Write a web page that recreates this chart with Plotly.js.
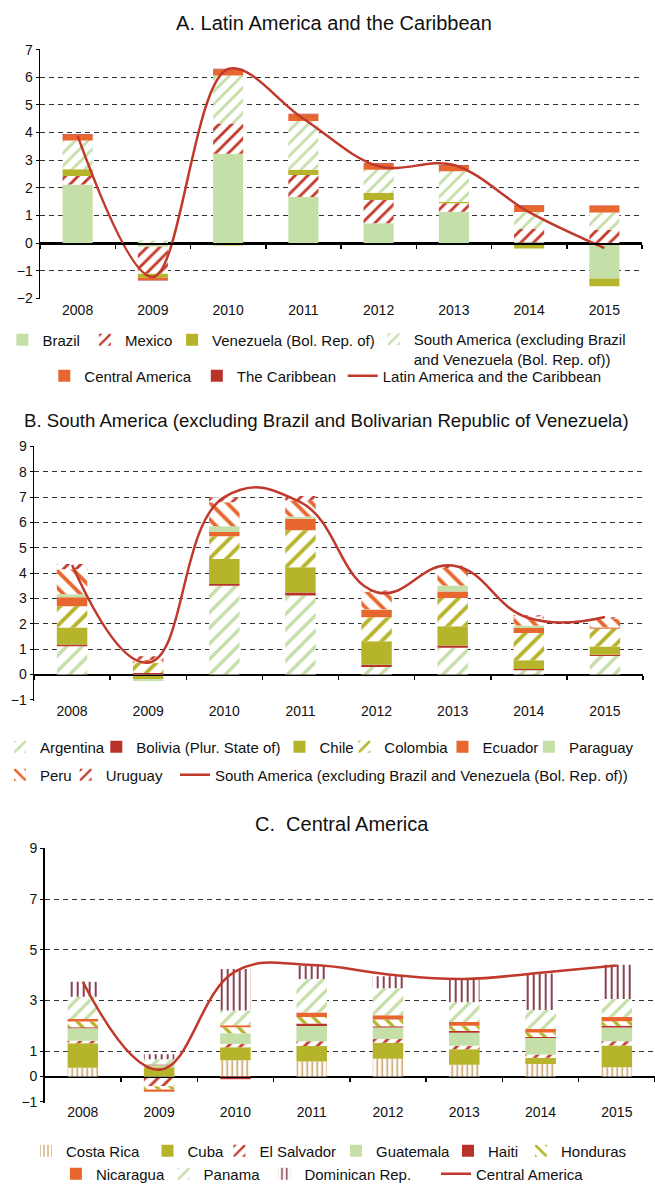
<!DOCTYPE html>
<html><head><meta charset="utf-8">
<script src="https://cdn.plot.ly/plotly-3.0.1.min.js"></script>
<style>html,body{margin:0;padding:0;background:#fff}#chart{width:655px;height:1184px}</style>
</head><body><div id="chart"></div>
<script>
// ---------- DATA ----------
const years = ['2008','2009','2010','2011','2012','2013','2014','2015'];

// Panel A: Latin America and the Caribbean
const brazil        = [2.12, -0.13, 3.23, 1.67, 0.72, 1.14, 0.02, -1.28];
const mexico        = [0.31, -0.98, 1.10, 0.80, 0.84, 0.30, 0.50, 0.48];
const venezuela     = [0.24, -0.14, -0.08, 0.19, 0.26, 0.05, -0.19, -0.28];
const southAmExcl   = [1.04, 0.10, 1.73, 1.76, 0.84, 1.11, 0.61, 0.63];
const centralAm     = [0.20, -0.08, 0.22, 0.23, 0.20, 0.20, 0.23, 0.23];
const caribbean     = [0.03, -0.02, 0.03, 0.03, 0.03, 0.03, 0.02, 0.02];
const latinAmTotal  = [3.88, -1.22, 6.30, 4.50, 2.78, 2.83, 1.12, -0.18];

// Panel B: South America (excluding Brazil and Venezuela)
const argentina = [1.12, -0.03, 3.50, 3.12, 0.30, 1.06, 0.17, 0.73];
const bolivia   = [0.07, 0.06, 0.07, 0.12, 0.09, 0.09, 0.05, 0.05];
const chile     = [0.67, -0.15, 0.99, 0.99, 0.93, 0.76, 0.35, 0.33];
const colombia  = [0.84, 0.40, 0.90, 1.46, 0.94, 1.11, 1.07, 0.70];
const ecuador   = [0.35, 0.00, 0.17, 0.46, 0.30, 0.26, 0.20, 0.05];
const paraguay  = [0.12, -0.07, 0.22, 0.09, 0.02, 0.23, 0.10, 0.01];
const peru      = [0.99, 0.13, 0.95, 0.63, 0.69, 0.70, 0.35, 0.34];
const uruguay   = [0.20, 0.13, 0.20, 0.18, 0.05, 0.08, 0.05, 0.05];
const southAmTotal = [4.32, 0.47, 7.00, 6.80, 3.25, 4.30, 2.23, 2.27];

// Panel C: Central America
const costaRica  = [0.35, -0.06, 0.64, 0.60, 0.70, 0.47, 0.50, 0.37];
const cuba       = [0.97, 0.37, 0.52, 0.61, 0.64, 0.61, 0.24, 0.86];
const elSalvador = [0.09, -0.32, 0.13, 0.18, 0.14, 0.14, 0.13, 0.16];
const guatemala  = [0.50, 0.08, 0.42, 0.61, 0.46, 0.51, 0.65, 0.55];
const haiti      = [0.04, 0.03, -0.10, 0.09, 0.05, 0.08, 0.04, 0.07];
const honduras   = [0.22, -0.13, 0.24, 0.26, 0.26, 0.20, 0.18, 0.17];
const nicaragua  = [0.10, -0.09, 0.08, 0.18, 0.17, 0.14, 0.14, 0.17];
const panama     = [0.88, 0.20, 0.58, 1.32, 1.07, 0.78, 0.75, 0.71];
const dominican  = [0.59, 0.20, 1.63, 0.52, 0.47, 0.89, 1.44, 1.35];
const centralAmTotal = [3.74, 0.27, 4.15, 4.40, 4.03, 3.85, 4.10, 4.38];

const ticksA = [-2,-1,0,1,2,3,4,5,6,7];
const ticksB = [-1,0,1,2,3,4,5,6,7,8,9];
const ticksC = [-1,0,1,3,5,7,9];

// ---------- STYLE / LAYOUT ----------
const W = 655, H = 1184;
const FONT = 'Liberation Sans, Arial, Helvetica, sans-serif';
const LGREEN = '#c5dfa9', OLIVE = '#b5b42a', ORANGE = '#e8672f', DRED = '#b8342a',
      RED = '#c23b2d', TAN = '#c99a5e', MAROON = '#7d2c3d', LINEC = '#c0392b';
const fx = p => p / W, fy = p => 1 - p / H;

const layout = {
  width: W, height: H,
  margin: {l:0, r:0, t:0, b:0, autoexpand:false},
  paper_bgcolor:'#fff', plot_bgcolor:'#fff',
  barmode:'relative', bargap:0.6,
  hovermode:false, showlegend:true,
  font:{family:FONT, color:'#111'},
  title:{text:'A. Latin America and the Caribbean', font:{family:FONT, size:20, color:'#111'},
         x:fx(334), xanchor:'center', y:fy(22.5), yanchor:'middle'},
  annotations:[
    {text:'B. South America (excluding Brazil and Bolivarian Republic of Venezuela)', xref:'paper', yref:'paper',
     x:fx(326), y:fy(420), xanchor:'center', yanchor:'middle', showarrow:false, font:{family:FONT, size:18.6, color:'#111'}},
    {text:'C.\u00a0 Central America', xref:'paper', yref:'paper',
     x:fx(341.5), y:fy(824), xanchor:'center', yanchor:'middle', showarrow:false, font:{family:FONT, size:20, color:'#111'}}
  ]
};

function addPanel(n, xpx, ypx, range, tickvals, standoff) {
  const xs = n === 1 ? 'xaxis' : 'xaxis' + n, ys = n === 1 ? 'yaxis' : 'yaxis' + n;
  const ydom = [fy(ypx[1]), fy(ypx[0])];
  const zeroFrac = ydom[0] + (0 - range[0]) / (range[1] - range[0]) * (ydom[1] - ydom[0]);
  layout[xs] = {domain:[fx(xpx[0]), fx(xpx[1])], type:'category', range:[-0.5, 7.5],
    anchor:'free', position:zeroFrac, showline:true, linecolor:'#000', linewidth:1.5,
    ticks:'outside', tickson:'boundaries', ticklen:4, tickwidth:1.5, tickcolor:'#000',
    showgrid:false, zeroline:false, fixedrange:true, ticklabelstandoff:standoff,
    tickfont:{family:FONT, size:14, color:'#111'}};
  layout[ys] = {domain:ydom, range:range, tickmode:'array', tickvals:tickvals,
    anchor: n === 1 ? 'x' : 'x' + n,
    showgrid:true, gridcolor:'#333', gridwidth:1, griddash:'5px,4px',
    zeroline:true, zerolinecolor:'#000', zerolinewidth:1.5,
    showline:true, linecolor:'#000', linewidth:1.5,
    ticks:'outside', ticklen:3, tickcolor:'#000', fixedrange:true,
    tickfont:{family:FONT, size:14, color:'#111'}};
  return {x: n === 1 ? 'x' : 'x' + n, y: n === 1 ? 'y' : 'y' + n};
}

const axA = addPanel(1, [40, 642], [48.8, 299.3], [-2.03, 7.03], ticksA, 54);
const axB = addPanel(2, [34, 643], [445.7, 700.7], [-1.03, 9.03], ticksB, 23);
const axC = addPanel(3, [44.7, 655], [847.7, 1102.7], [-1.03, 9.03], ticksC, 22);

let legN = 0;
function addLegend(xpx, ypx, extra) {
  legN++;
  const key = legN === 1 ? 'legend' : 'legend' + legN;
  layout[key] = Object.assign({x:fx(xpx), y:fy(ypx), xanchor:'left', yanchor:'middle',
    orientation:'h', bgcolor:'rgba(0,0,0,0)', borderwidth:0, visible:true,
    font:{family:FONT, size:15, color:'#111'}, itemclick:false, itemdoubleclick:false}, extra || {});
  return key;
}

const traces = [];
function solid(color) { return {color:color, line:{width:0}}; }
function hatch(shape, color, size, sol) {
  return {color:'#ffffff', line:{width:0},
    pattern:{shape:shape, fgcolor:color, bgcolor:'#ffffff', size:size, solidity:sol || 0.32, fillmode:'replace'}};
}
function addBar(name, vals, ax, marker, lx, ly, legExtra) {
  traces.push({type:'bar', name:name, x:years, y:vals, xaxis:ax.x, yaxis:ax.y, showlegend:true,
    marker:marker, legend:addLegend(lx, ly, legExtra)});
}
function addLine(name, vals, ax, lx, ly, sm) {
  traces.push({type:'scatter', mode:'lines', name:name, x:years, y:vals, xaxis:ax.x, yaxis:ax.y, showlegend:true,
    line:{color:LINEC, width:2.5, shape:'spline', smoothing:sm}, legend:addLegend(lx, ly)});
}

// Panel A
addBar('Brazil', brazil, axA, solid(LGREEN), 2.4, 340);
addBar('Mexico', mexico, axA, hatch('/', RED, 9), 84.9, 340);
addBar('Venezuela (Bol. Rep. of)', venezuela, axA, solid(OLIVE), 172.1, 340);
addBar('South America (excluding Brazil<br>and Venezuela (Bol. Rep. of))', southAmExcl, axA,
       hatch('/', LGREEN, 9), 373.7, 349, {valign:'top'});
addBar('Central America', centralAm, axA, solid(ORANGE), 44.3, 376);
addBar('The Caribbean', caribbean, axA, solid(DRED), 196.8, 376);
addLine('Latin America and the Caribbean', latinAmTotal, axA, 342.7, 376, 1.0);

// Panel B
addBar('Argentina', argentina, axB, hatch('/', LGREEN, 11), 0, 747);
addBar('Bolivia (Plur. State of)', bolivia, axB, solid(DRED), 96.3, 747);
addBar('Chile', chile, axB, solid(OLIVE), 279.5, 747);
addBar('Colombia', colombia, axB, hatch('/', OLIVE, 12), 344.3, 747);
addBar('Ecuador', ecuador, axB, solid(ORANGE), 442.5, 747);
addBar('Paraguay', paraguay, axB, solid(LGREEN), 528.9, 747);
addBar('Peru', peru, axB, hatch('\\', ORANGE, 12), 0, 775);
addBar('Uruguay', uruguay, axB, hatch('/', RED, 9), 65.7, 775);
addLine('South America (excluding Brazil and Venezuela (Bol. Rep. of))', southAmTotal, axB, 175, 775, 1.3);

// Panel C
addBar('Costa Rica', costaRica, axC, hatch('|', TAN, 5, 0.3), 26, 1151);
addBar('Cuba', cuba, axC, solid(OLIVE), 147.5, 1151);
addBar('El Salvador', elSalvador, axC, hatch('/', RED, 9), 219.4, 1151);
addBar('Guatemala', guatemala, axC, solid(LGREEN), 336, 1151);
addBar('Haiti', haiti, axC, solid(DRED), 448, 1151);
addBar('Honduras', honduras, axC, hatch('\\', OLIVE, 10), 521, 1151);
addBar('Nicaragua', nicaragua, axC, solid(ORANGE), 55.9, 1174);
addBar('Panama', panama, axC, hatch('/', LGREEN, 10), 163.6, 1174);
addBar('Dominican Rep.', dominican, axC, hatch('|', MAROON, 6, 0.3), 264.4, 1174);
addLine('Central America', centralAmTotal, axC, 436, 1174, 1.2);

Plotly.newPlot('chart', traces, layout, {displayModeBar:false, staticPlot:true});
</script>
</body></html>
